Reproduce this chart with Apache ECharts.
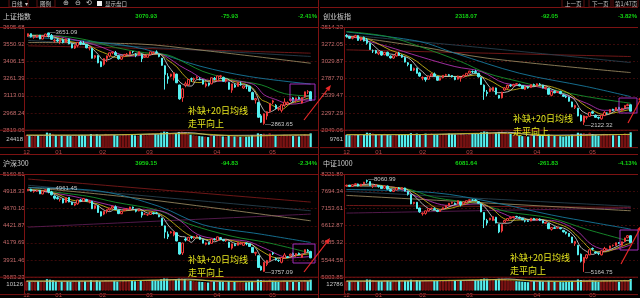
<!DOCTYPE html>
<html><head><meta charset="utf-8">
<script src="https://cdn.jsdelivr.net/npm/echarts@6/dist/echarts.min.js"></script>
<style>html,body{margin:0;padding:0;background:#000;}#c{width:640px;height:298px;}</style>
</head><body><div id="c"></div><script>
// ---------- DATA ----------
const monthLabels = ['12','01','02','03','04','05'];
const monthIdx = [0,11,26,42,65,84];

const shTicks = ['3695.68','3550.92','3406.15','3261.39','3113.01','2968.24','2819.06'];
const cyTicks = ['3514.23','3272.05','3029.87','2787.70','2539.47','2297.29','2049.06'];
const hsTicks = ['5160.51','4918.33','4670.10','4421.87','4179.69','3931.46','3683.23'];
const zzTicks = ['8221.89','7694.34','7153.61','6612.87','6085.32','5544.58','5003.85'];

// candles: [open, close, low, high]
const shK = [[3623,3643,3616,3644],[3643,3618,3610,3645],[3612,3615,3600,3620],[3614,3630,3606,3631],[3630,3597,3596,3632],[3597,3619,3596,3623],[3620,3640,3618,3641],[3649,3632,3611,3651.09],[3628,3595,3590,3640],[3581,3586,3565,3600],[3589,3580,3570,3602],[3573,3593,3555,3594],[3590,3567,3560,3601],[3570,3597,3566,3600],[3598,3555,3553,3601],[3553,3521,3518,3559],[3520,3541,3512,3545],[3541,3569,3526,3570],[3569,3558,3545,3580],[3559,3555,3546,3580],[3550,3522,3518,3555],[3519,3525,3500,3530],[3518,3433,3430,3520],[3440,3455,3429,3460],[3455,3394,3390,3460],[3403,3361,3357,3410],
[3380,3430,3370,3431],[3430,3453,3400,3456],[3452,3479,3440,3480],[3478,3485,3467,3490],[3480,3462,3455,3495],[3454,3428,3421,3460],[3425,3446,3420,3447],[3452,3465,3445,3470],[3464,3468,3460,3477],[3465,3490,3458,3490],[3491,3490,3475,3493],[3466,3457,3442,3478],[3462,3489,3458,3490],[3463,3429,3400,3470],[3440,3451,3437,3464],[3441,3462,3439,3463],
[3467,3488,3460,3490],[3480,3484,3466,3490],[3487,3481,3471,3500],[3466,3447,3441,3468],[3434,3372,3368,3435],[3368,3293,3165,3372],[3275,3256,3215,3305],[3280,3296,3270,3300],[3265,3309,3242,3310],[3297,3223,3220,3300],[3204,3085,3078,3206],[3095,3171,3060,3175],[3202,3215,3185,3233],[3206,3251,3195,3253],[3258,3253,3232,3268],[3249,3259,3232,3268],[3264,3271,3256,3279],[3256,3250,3244,3270],[3246,3212,3208,3252],[3196,3214,3183,3226],[3221,3203,3192,3224],[3214,3266,3210,3267],[3261,3252,3245,3273],
[3240,3282,3237,3283],[3276,3283,3263,3290],[3269,3236,3233,3275],[3236,3251,3225,3255],[3226,3167,3164,3230],[3160,3213,3137,3214],[3203,3186,3180,3216],[3191,3225,3191,3226],[3213,3211,3197,3232],[3178,3195,3170,3200],[3195,3194,3169,3208],[3194,3151,3148,3195],[3140,3079,3075,3147],[3075,3087,3045,3094],[3054,2928,2925,3062],[2940,2886,2880,2955],[2875,2958,2863.65,2960],[2939,2975,2907,2980],[2976,3047,2966,3050],
[3057,3068,3040,3078],[3030,3002,2995,3040],[2998,3004,2983,3012],[2987,3035,2969,3036],[3032,3058,3017,3090],[3041,3054,3036,3063],[3071,3084,3060,3090],[3094,3073,3060,3100],[3070,3094,3054,3095],[3097,3086,3078,3106],[3050,3097,3045,3099],[3100,3146,3097,3147],[3145,3147,3127,3160],[3146,3070.93,3068,3153]];

const cyK = [[3400,3390,3370,3420],[3385,3360,3350,3395],[3360,3375,3345,3385],[3378,3400,3370,3410],[3398,3330,3325,3405],[3335,3370,3320,3375],[3372,3322,3315,3385],[3340,3290,3270,3365],[3285,3200,3195,3295],[3180,3180,3150,3200],[3185,3150,3140,3195],[3140,3165,3120,3170],[3170,3120,3110,3180],[3125,3160,3118,3165],[3160,3110,3105,3168],[3105,3080,3070,3115],[3078,3110,3065,3115],[3108,3150,3100,3155],[3150,3120,3110,3165],[3118,3090,3080,3130],[3085,3020,3015,3090],[3010,2985,2960,3020],[2985,2900,2895,2990],[2905,2930,2890,2940],[2930,2860,2855,2940],[2865,2820,2810,2880],
[2790,2800,2760,2815],[2798,2770,2740,2805],[2775,2820,2770,2825],[2822,2850,2815,2860],[2850,2820,2812,2870],[2815,2760,2750,2820],[2762,2790,2755,2795],[2795,2830,2790,2835],[2832,2840,2820,2852],[2838,2830,2815,2850],[2828,2810,2800,2835],[2800,2770,2760,2815],[2775,2820,2770,2825],[2790,2800,2740,2810],[2805,2830,2800,2840],[2828,2860,2825,2862],
[2862,2890,2855,2895],[2885,2880,2860,2900],[2885,2870,2855,2910],[2860,2810,2800,2865],[2800,2700,2695,2805],[2690,2600,2480,2700],[2590,2570,2530,2620],[2600,2640,2590,2645],[2620,2660,2600,2665],[2650,2560,2555,2655],[2545,2505,2498,2550],[2510,2590,2500,2595],[2620,2650,2610,2660],[2648,2690,2640,2695],[2690,2680,2665,2705],[2678,2700,2670,2710],[2705,2710,2695,2720],[2700,2680,2672,2712],[2680,2640,2635,2688],[2630,2660,2620,2665],[2662,2650,2640,2670],[2655,2700,2650,2702],[2698,2690,2680,2712],
[2680,2710,2670,2715],[2705,2700,2685,2720],[2690,2650,2645,2695],[2648,2660,2630,2668],[2640,2560,2555,2645],[2545,2600,2530,2605],[2598,2580,2575,2615],[2585,2600,2580,2605],[2598,2570,2560,2610],[2550,2530,2520,2560],[2530,2520,2505,2545],[2520,2460,2455,2525],[2450,2380,2375,2455],[2370,2400,2350,2410],[2360,2250,2245,2365],[2260,2180,2170,2270],[2160,2250,2122.32,2255],[2230,2240,2200,2250],[2245,2300,2235,2305],
[2310,2290,2280,2325],[2260,2230,2225,2270],[2228,2220,2200,2240],[2210,2260,2195,2262],[2255,2300,2248,2320],[2290,2290,2280,2300],[2300,2340,2295,2345],[2345,2330,2320,2352],[2328,2370,2320,2372],[2372,2350,2345,2380],[2330,2360,2325,2362],[2362,2400,2358,2402],[2398,2410,2390,2425],[2410,2318.07,2315,2415]];

const hsK = [[4930,4947,4925,4952],[4948,4921,4915,4955],[4915,4919,4898,4925],[4920,4933,4910,4940],[4932,4882,4878,4935],[4880,4922,4875,4925],[4925,4940,4918,4945],[4957,4917,4890,4961.45],[4910,4868,4860,4925],[4850,4819,4800,4860],[4825,4812,4800,4845],[4800,4810,4770,4812],[4808,4752,4745,4815],[4760,4828,4755,4830],[4830,4765,4760,4835],[4760,4726,4720,4770],[4720,4740,4705,4745],[4738,4794,4725,4796],[4793,4779,4768,4806],[4778,4813,4765,4823],[4800,4779,4770,4810],[4770,4786,4745,4790],[4775,4667,4662,4780],[4675,4712,4660,4715],[4712,4613,4608,4715],[4625,4563,4556,4630],
[4590,4631,4575,4634],[4628,4654,4600,4658],[4652,4676,4640,4680],[4677,4702,4668,4710],[4695,4657,4650,4715],[4645,4597,4590,4655],[4595,4627,4590,4630],[4640,4659,4635,4665],[4658,4662,4650,4675],[4655,4692,4650,4694],[4690,4675,4660,4698],[4650,4630,4615,4660],[4635,4658,4630,4662],[4620,4575,4540,4625],[4590,4590,4580,4608],[4580,4581,4565,4590],
[4585,4617,4580,4620],[4608,4596,4585,4615],[4605,4600,4588,4622],[4575,4551,4545,4580],[4530,4428,4422,4535],[4420,4330,4240,4425],[4300,4264,4230,4340],[4320,4333,4310,4345],[4290,4339,4270,4341],[4320,4203,4198,4325],[4180,4014,4005,4185],[4030,4173,4000,4175],[4230,4215,4195,4255],[4210,4256,4200,4258],[4262,4253,4230,4275],[4248,4263,4235,4272],[4268,4274,4258,4285],[4258,4226,4220,4268],[4220,4171,4168,4225],[4155,4174,4140,4180],[4180,4156,4150,4185],[4168,4231,4165,4233],[4225,4223,4210,4245],
[4210,4262,4205,4264],[4250,4234,4220,4258],[4220,4207,4198,4228],[4205,4214,4190,4222],[4185,4110,4105,4190],[4100,4160,4080,4162],[4150,4134,4128,4168],[4140,4183,4138,4185],[4165,4175,4150,4190],[4140,4175,4130,4180],[4172,4164,4140,4180],[4160,4123,4118,4165],[4110,4035,4030,4115],[4025,4039,3990,4045],[3990,3820,3815,3995],[3835,3784,3775,3850],[3765,3896,3757.09,3900],[3865,3921,3840,3930],[3920,4016,3905,4020],
[4030,4018,4000,4045],[3945,3930,3920,3965],[3925,3920,3900,3935],[3895,3964,3880,3966],[3960,4001,3945,4030],[3975,3966,3955,3985],[3990,4013,3980,4020],[4025,3999,3985,4035],[3995,4022,3975,4025],[4025,4009,4000,4035],[3965,4011,3960,4015],[4030,4077,4025,4080],[4070,4054,4040,4085],[4052,3959.15,3955,4060]];

const zzK = [[7860,7880,7840,7905],[7885,7850,7830,7895],[7845,7900,7835,7905],[7905,7930,7890,7945],[7925,7860,7850,7935],[7855,7920,7850,7925],[7925,7980,7915,7990],[8030,8010,7960,8060.99],[8000,7880,7870,8010],[7850,7860,7800,7890],[7865,7890,7840,7910],[7870,7850,7810,7885],[7855,7780,7770,7870],[7790,7860,7785,7865],[7860,7760,7750,7870],[7750,7700,7680,7765],[7690,7740,7670,7745],[7735,7800,7720,7805],[7800,7780,7760,7825],[7775,7810,7750,7820],[7800,7700,7690,7810],[7690,7600,7560,7700],[7590,7300,7290,7600],[7310,7350,7280,7360],[7350,7150,7140,7360],[7170,7050,7020,7180],
[6990,7010,6930,7030],[7000,7080,6960,7090],[7080,7150,7060,7155],[7150,7160,7130,7185],[7150,7120,7100,7190],[7100,7060,7040,7120],[7060,7120,7050,7125],[7130,7180,7120,7190],[7180,7250,7170,7260],[7245,7320,7240,7325],[7320,7350,7300,7365],[7320,7300,7270,7340],[7300,7400,7295,7405],[7360,7280,7220,7370],[7300,7360,7290,7370],[7350,7400,7340,7405],
[7405,7430,7390,7440],[7420,7420,7395,7445],[7425,7400,7380,7450],[7370,7320,7310,7380],[7300,7050,7040,7305],[7030,6800,6540,7040],[6780,6700,6620,6830],[6800,6850,6780,6860],[6780,6900,6760,6905],[6880,6700,6690,6890],[6650,6420,6380,6660],[6450,6650,6400,6655],[6720,6780,6700,6800],[6775,6840,6760,6845],[6845,6880,6820,6900],[6870,6900,6850,6915],[6905,6890,6870,6925],[6880,6850,6835,6900],[6845,6800,6790,6860],[6770,6760,6720,6790],[6770,6750,6730,6790],[6760,6850,6755,6855],[6840,6800,6790,6860],
[6790,6830,6770,6840],[6820,6780,6760,6845],[6770,6700,6690,6780],[6690,6720,6670,6730],[6680,6520,6510,6690],[6500,6560,6460,6565],[6550,6530,6520,6590],[6535,6560,6530,6570],[6540,6520,6500,6570],[6470,6420,6400,6480],[6420,6380,6340,6430],[6375,6280,6270,6380],[6260,6080,6070,6265],[6050,6120,5980,6130],[6000,5700,5690,6010],[5720,5500,5460,5740],[5450,5620,5164.75,5630],[5600,5700,5560,5720],[5700,5860,5690,5865],
[5900,5880,5840,5930],[5790,5760,5740,5810],[5750,5740,5690,5770],[5700,5830,5680,5835],[5830,5900,5810,5950],[5870,5880,5850,5900],[5900,5980,5890,5985],[5990,6000,5960,6020],[5995,6080,5980,6085],[6085,6060,6040,6100],[6000,6110,5990,6115],[6120,6230,6115,6235],[6240,6300,6220,6320],[6300,6081.64,6075,6310]];

// volumes
const shVol = [36000,34000,33000,35000,36000,33000,34000,44000,42000,40000,35000,36000,35000,37000,36000,34000,33000,35000,36000,37000,36000,35000,40000,38000,39000,36000,
37000,40000,38000,39000,37000,35000,34000,36000,37000,39000,38000,36000,35000,38000,37000,36000,
40000,41000,40000,39000,44000,47000,46000,42000,40000,43000,46000,47000,45000,40000,38000,36000,35000,34000,33000,32000,31000,36000,35000,
36000,35000,33000,32000,37000,36000,33000,34000,32000,31000,32000,33000,36000,35000,42000,40000,41000,38000,42000,
38000,36000,33000,34000,38000,35000,36000,34000,37000,33000,35000,39000,36000,42000];
const cyVol = [15000,14500,14000,15500,15000,14000,15000,17500,17000,16500,15000,15500,15000,16000,15500,14500,14000,15000,15500,16000,15500,15000,17000,16000,16500,15500,
15500,16500,16000,16500,15500,15000,14500,15500,16000,16500,16000,15500,15000,16000,15500,15000,
16500,17000,16500,16000,18000,19000,18500,17500,16500,17500,18500,19000,18000,16500,16000,15000,14500,14000,13500,13500,13000,15000,14500,
15000,14500,14000,13500,15500,15000,14000,14500,13500,13000,13500,14000,15000,14500,17500,16500,17000,16000,17500,
16000,15000,14000,14500,16000,15000,15500,14500,15500,14000,14500,16500,15500,18000];
const hsVol = [15000,14200,13800,14600,15000,13800,14200,18300,17500,16700,14600,15000,14600,15400,15000,14200,13800,14600,15000,15400,15000,14600,16700,15800,16300,15000,
15400,16700,15800,16300,15400,14600,14200,15000,15400,16300,15800,15000,14600,15800,15400,15000,
16700,17100,16700,16300,18300,19500,19100,17500,16700,17900,19100,19500,18700,16700,15800,15000,14600,14200,13800,13300,12900,15000,14600,
15000,14600,13800,13300,15400,15000,13800,14200,13300,12900,13300,13800,15000,14600,17500,16700,17100,15800,17500,
15800,15000,13800,14200,15800,14600,15000,14200,15400,13800,14600,16300,15000,17500];
const zzVol = [19000,18500,18000,19500,19000,18000,19000,22500,22000,21000,19000,19500,19000,20500,20000,18500,18000,19500,20000,20500,20000,19500,22000,21000,21500,20000,
20000,21500,21000,21500,20000,19500,19000,20000,21000,21500,21000,20000,19500,21000,20500,19500,
21500,22000,21500,21000,23500,24500,24000,22500,21500,23000,24000,24500,23500,21500,20500,19500,19000,18500,18000,17500,17000,19500,19000,
19500,19000,18000,17500,20000,19500,18000,18500,17500,17000,17500,18000,19500,19000,22500,21500,22000,20500,22500,
20500,19500,18000,18500,20500,19000,20000,18500,20000,18000,19000,21500,20000,23500];

// moving averages: [dayIndex, value]
const shMa5 = [[0,3625],[4,3621],[8,3617],[12,3584],[16,3555],[20,3549],[22,3517],[24,3466],[26,3415],[28,3424],[30,3454],[32,3460],[35,3459],[38,3479],[41,3456],[44,3473],[46,3454],[48,3370],[50,3305],[52,3232],[54,3200],[56,3195],[58,3250],[60,3249],[62,3232],[64,3229],[66,3260],[68,3259],[70,3230],[72,3208],[74,3206],[76,3193],[78,3139],[80,3026],[82,2967],[84,2983],[86,3015],[88,3033],[90,3047],[92,3073],[94,3087],[96,3110],[97,3109]];
const shMa10 = [[0,3625],[5,3622],[10,3610],[15,3573],[20,3553],[24,3500],[27,3470],[30,3440],[34,3450],[38,3465],[42,3466],[45,3469],[48,3416],[51,3360],[53,3300],[56,3235],[59,3225],[62,3240],[65,3240],[68,3249],[71,3232],[74,3216],[77,3180],[80,3080],[82,3057],[84,3028],[87,2995],[90,3045],[93,3065],[96,3090],[97,3095]];
const shMa20 = [[0,3628],[8,3625],[14,3600],[20,3567],[25,3530],[30,3480],[35,3450],[40,3460],[45,3468],[48,3438],[52,3370],[56,3315],[60,3258],[65,3235],[70,3240],[75,3225],[78,3200],[81,3120],[85,3080],[90,3040],[94,3050],[97,3075]];
const shMa30 = [[0,3632],[10,3625],[20,3590],[30,3525],[40,3480],[48,3460],[55,3380],[60,3320],[70,3250],[80,3205],[88,3130],[97,3110]];
const shMa60 = [[0,3615],[25,3567],[40,3510],[59,3365],[76,3276],[97,3212]];
const shMa120 = [[0,3567],[37,3556],[60,3500],[97,3390]];
const shMa250 = [[0,3539],[50,3510],[97,3476]];
const shMaX = [[0,3585],[97,3448]];
const shVolMa5 = [[0,36000],[20,36500],[45,40000],[55,44000],[65,36000],[80,36500],[97,37000]];
const shVolMa10 = [[0,37000],[25,37000],[50,41000],[60,40000],[75,34000],[90,37000],[97,37500]];

const cyMa5 = [[0,3380],[4,3371],[8,3300],[12,3163],[16,3129],[20,3098],[22,3053],[24,2955],[26,2881],[28,2814],[30,2812],[32,2808],[35,2818],[38,2810],[41,2824],[44,2859],[46,2822],[48,2710],[50,2614],[52,2582],[54,2587],[56,2614],[58,2686],[60,2686],[62,2666],[64,2668],[66,2692],[68,2682],[70,2634],[72,2600],[74,2570],[76,2540],[78,2474],[80,2336],[82,2282],[84,2256],[86,2257],[88,2260],[90,2282],[92,2328],[94,2338],[96,2368],[97,2368]];
const cyMa10 = [[0,3385],[5,3375],[10,3300],[15,3190],[20,3120],[24,3030],[28,2900],[32,2820],[36,2815],[40,2815],[44,2835],[47,2795],[50,2735],[53,2660],[56,2620],[60,2650],[64,2680],[68,2680],[72,2640],[76,2570],[80,2440],[84,2330],[88,2270],[92,2300],[96,2335],[97,2345]];
const cyMa20 = [[0,3404],[14,3242],[25,3099],[37,2956],[46,2884],[54,2718],[65,2669],[76,2526],[82,2430],[88,2330],[97,2360]];
const cyMa30 = [[0,3457],[14,3385],[25,3242],[39,3027],[48,2861],[59,2741],[71,2622],[82,2526],[97,2431]];
const cyMa60 = [[0,3450],[25,3314],[37,3147],[59,2861],[82,2669],[97,2526]];
const cyMa120 = [[0,3395],[25,3242],[48,3076],[97,2870]];
const cyMa250 = [[0,3195],[97,3099]];
const cyMaX = [[0,3410],[48,3219],[97,3013]];
const cyVolMa5 = [[0,15000],[20,15200],[45,16500],[55,18000],[65,14500],[80,15000],[97,15500]];
const cyVolMa10 = [[0,15300],[25,15400],[50,17000],[60,16200],[75,14000],[90,15200],[97,15500]];

const hsMa5 = [[0,4935],[4,4925],[8,4895],[12,4813],[16,4758],[20,4780],[22,4750],[24,4711],[26,4648],[28,4626],[30,4664],[32,4652],[35,4648],[38,4665],[41,4605],[44,4597],[46,4555],[48,4434],[50,4343],[52,4271],[54,4258],[56,4182],[58,4252],[60,4237],[62,4200],[64,4191],[66,4221],[68,4228],[70,4186],[72,4160],[74,4165],[76,4164],[78,4107],[80,3966],[82,3892],[84,3927],[86,3958],[88,3960],[90,3973],[92,4001],[94,4013],[96,4035],[97,4022]];
const hsMa10 = [[0,4940],[5,4930],[10,4878],[15,4792],[20,4770],[24,4735],[28,4670],[32,4630],[36,4650],[40,4640],[44,4615],[47,4553],[50,4455],[53,4350],[56,4270],[60,4230],[64,4220],[68,4220],[72,4190],[76,4165],[80,4060],[84,3970],[88,3950],[92,3990],[96,4015],[97,4020]];
const hsMa20 = [[0,4945],[15,4850],[25,4750],[35,4660],[45,4640],[52,4500],[58,4300],[65,4230],[75,4200],[81,4100],[90,3960],[97,3979]];
const hsMa30 = [[0,4950],[20,4850],[30,4760],[45,4640],[55,4450],[70,4270],[82,4180],[97,4027]];
const hsMa60 = [[0,4970],[25,4918],[45,4700],[60,4436],[80,4300],[97,4181]];
const hsMa120 = [[0,4976],[37,4821],[97,4493]];
const hsMa250 = [[0,5095],[97,4763]];
const hsMaX = [[0,5005],[97,4638]];
const hsMaY = [[0,4402],[97,4590]];
const hsVolMa5 = [[0,15000],[20,15200],[45,16700],[55,18400],[65,15000],[80,15200],[97,15400]];
const hsVolMa10 = [[0,15400],[25,15400],[50,17100],[60,16700],[75,14200],[90,15400],[97,15600]];

const zzMa5 = [[0,7870],[4,7884],[8,7926],[12,7852],[16,7768],[20,7770],[22,7639],[24,7475],[26,7292],[28,7152],[30,7094],[32,7102],[35,7206],[38,7304],[41,7348],[44,7406],[46,7305],[48,7114],[50,6857],[52,6694],[54,6690],[56,6708],[58,6856],[60,6864],[62,6810],[64,6792],[66,6812],[68,6766],[70,6662],[72,6578],[74,6542],[76,6442],[78,6256],[80,5936],[82,5804],[84,5712],[86,5788],[88,5802],[90,5866],[92,5948],[94,6046],[96,6156],[97,6156]];
const zzMa10 = [[0,7880],[5,7885],[10,7895],[15,7830],[20,7775],[24,7600],[28,7320],[32,7130],[36,7170],[40,7280],[44,7370],[47,7290],[50,7130],[53,6880],[56,6780],[60,6800],[64,6820],[68,6790],[72,6680],[76,6520],[80,6180],[84,5840],[88,5790],[92,5900],[96,6040],[97,6070]];
const zzMa20 = [[0,7870],[15,7840],[25,7500],[35,7250],[45,7300],[52,7050],[60,6800],[70,6780],[78,6500],[84,6000],[90,5850],[97,6015]];
const zzMa30 = [[0,7855],[20,7780],[30,7500],[45,7300],[55,7050],[70,6850],[82,6500],[97,6120]];
const zzMa60 = [[0,7750],[30,7650],[50,7350],[70,6950],[85,6700],[97,6507]];
const zzMa120 = [[0,7567],[97,7083]];
const zzMa250 = [[0,7250],[97,7190]];
const zzMaX = [[0,7693],[97,7222]];
const zzMaY = [[0,7010],[97,7170]];
const zzVolMa5 = [[0,19000],[20,19500],[45,21000],[55,23500],[65,19000],[80,19500],[97,20000]];
const zzVolMa10 = [[0,19500],[25,19800],[50,22000],[60,21000],[75,18500],[90,19500],[97,20000]];

// ---------- STYLE / LAYOUT ----------
const maColors = {ma250:'#7a1a1a', maX:'#27404e', maY:'#5a1c52', ma120:'#94845e', ma60:'#17789c', ma30:'#17922e', ma20:'#b032b0', ma10:'#c2b018', ma5:'#c4c4c4'};
const panels = [
  {name:'上证指数', price:'3070.93', chg:'-75.93', pct:'-2.41%', ticks:shTicks, k:shK, vol:shVol, volTick:24418,
   ma:{ma250:shMa250, maX:shMaX, ma120:shMa120, ma60:shMa60, ma30:shMa30, ma20:shMa20, ma10:shMa10, ma5:shMa5}, vma:[shVolMa5, shVolMa10], marks:['max','min'], ox:0, oy:0},
  {name:'创业板指', price:'2318.07', chg:'-92.05', pct:'-3.82%', ticks:cyTicks, k:cyK, vol:cyVol, volTick:9761,
   ma:{ma250:cyMa250, maX:cyMaX, ma120:cyMa120, ma60:cyMa60, ma30:cyMa30, ma20:cyMa20, ma10:cyMa10, ma5:cyMa5}, vma:[cyVolMa5, cyVolMa10], marks:['min'], ox:320, oy:0},
  {name:'沪深300', price:'3959.15', chg:'-94.83', pct:'-2.34%', ticks:hsTicks, k:hsK, vol:hsVol, volTick:10126,
   ma:{ma250:hsMa250, maX:hsMaX, maY:hsMaY, ma120:hsMa120, ma60:hsMa60, ma30:hsMa30, ma20:hsMa20, ma10:hsMa10, ma5:hsMa5}, vma:[hsVolMa5, hsVolMa10], marks:['max','min'], ox:0, oy:147},
  {name:'中证1000', price:'6081.64', chg:'-261.83', pct:'-4.13%', ticks:zzTicks, k:zzK, vol:zzVol, volTick:12786,
   ma:{ma250:zzMa250, maX:zzMaX, maY:zzMaY, ma120:zzMa120, ma60:zzMa60, ma30:zzMa30, ma20:zzMa20, ma10:zzMa10, ma5:zzMa5}, vma:[zzVolMa5, zzVolMa10], marks:['max','min'], ox:320, oy:147}
];

const RED_LINE = '#7c1212';
const UP = '#f03a3a', DOWN = '#54f0f0';
const NUMF = '"Liberation Sans", Arial, sans-serif';
const CJKF = '"Noto Sans CJK SC", sans-serif';

const grids = [], xAxes = [], yAxes = [], series = [], graphics = [];
const cats = Array.from({length:100}, (_, i) => { const m = monthIdx.indexOf(i); return m >= 0 ? monthLabels[m] : ''; });

function hline(x1, x2, y, color) { graphics.push({type:'line', silent:true, z:50, shape:{x1, y1:y, x2, y2:y}, style:{stroke: color || RED_LINE, lineWidth:1}}); }
function vline(x, y1, y2, color) { graphics.push({type:'line', silent:true, z:50, shape:{x1:x, y1, x2:x, y2}, style:{stroke: color || RED_LINE, lineWidth:1}}); }
function txt(x, y, s, o) { graphics.push({type:'text', silent:true, z:60, x, y, style:Object.assign({text:s, fill:'#c8c8c8', font:'6px ' + NUMF, textVerticalAlign:'middle'}, o || {})}); }
function box(x, y, w, h) { graphics.push({type:'rect', silent:true, z:55, shape:{x, y, width:w, height:h}, style:{fill:'none', stroke:'#5a1010', lineWidth:1}}); }
function arrow(x1, y1, x2, y2) {
  const a = Math.atan2(y2 - y1, x2 - x1), L = 6, W = 2.4;
  const bx = x2 - L * Math.cos(a), by = y2 - L * Math.sin(a);
  graphics.push({type:'line', silent:true, z:70, shape:{x1, y1, x2:bx, y2:by}, style:{stroke:'#e82828', lineWidth:1.2}});
  graphics.push({type:'polygon', silent:true, z:70, shape:{points:[[x2, y2], [bx + W * Math.sin(a), by - W * Math.cos(a)], [bx - W * Math.sin(a), by + W * Math.cos(a)]]}, style:{fill:'#e82828'}});
}
function prect(x, y, w, h) { graphics.push({type:'rect', silent:true, z:65, shape:{x, y, width:w, height:h}, style:{fill:'none', stroke:'#a02cb8', lineWidth:1}}); }

panels.forEach((p, n) => {
  const ox = p.ox, oy = p.oy, gi = n * 2;
  const yMax = parseFloat(p.ticks[0]), yMin = parseFloat(p.ticks[p.ticks.length - 1]);
  const step = (yMax - yMin) / 6;
  grids.push({left: ox + 25, top: oy + 27.5, width: 293, height: 102.5});
  grids.push({left: ox + 25, top: oy + 131, width: 293, height: 16.6});
  xAxes.push({type:'category', gridIndex:gi, data:cats, boundaryGap:true, axisLine:{show:false}, axisTick:{show:false}, axisLabel:{show:false}, splitLine:{show:false}});
  xAxes.push({type:'category', gridIndex:gi + 1, data:cats, boundaryGap:true, axisLine:{show:false}, axisTick:{show:false},
    axisLabel:{show:true, interval:0, color:'#b44848', fontSize:6, fontFamily:NUMF, margin:1.5}, splitLine:{show:false}});
  yAxes.push({type:'value', gridIndex:gi, min:yMin, max:yMax, interval:step, axisLine:{show:false}, axisTick:{show:false},
    axisLabel:{show:true, margin:2, fontSize:6, fontFamily:NUMF, color:'#c46a6a', formatter:(v) => p.ticks[Math.round((yMax - v) / step)] || ''},
    splitLine:{show:true, lineStyle:{color:'#3a0a0a', width:1, type:[2, 2]}}});
  yAxes.push({type:'value', gridIndex:gi + 1, min:0, max:p.volTick * 2, interval:p.volTick, axisLine:{show:false}, axisTick:{show:false},
    axisLabel:{show:true, margin:2, fontSize:6, fontFamily:NUMF, color:'#c8c8c8', formatter:(v) => Math.abs(v - p.volTick) < 1 ? String(p.volTick) : ''},
    splitLine:{show:false}});

  Object.keys(p.ma).forEach(key => {
    series.push({type:'line', xAxisIndex:gi, yAxisIndex:gi, data:p.ma[key], smooth:0.35, showSymbol:false, symbol:'none', silent:true,
      lineStyle:{color:maColors[key], width:0.9}, z:2});
  });
  series.push({type:'candlestick', xAxisIndex:gi, yAxisIndex:gi, data:p.k, barWidth:2, silent:true, z:3,
    itemStyle:{color:'#000', color0:DOWN, borderColor:UP, borderColor0:DOWN, borderWidth:1},
    markPoint:{symbol:'circle', symbolSize:0, silent:true,
      data:p.marks.map(m => ({type:m, valueDim: m === 'max' ? 'highest' : 'lowest'})),
      label:{show:true, position:'right', distance:1, color:'#c8c8c8', fontSize:6, fontFamily:NUMF, formatter:(q) => '\u2014' + q.value}}});
  series.push({type:'bar', xAxisIndex:gi + 1, yAxisIndex:gi + 1, barWidth:2.2, silent:true, z:2,
    data:p.vol.map((v, i) => ({value:v, itemStyle: p.k[i][1] >= p.k[i][0] ? {color:'#5e0c0c', borderColor:'#b02020', borderWidth:0.6} : {color:DOWN}}))});
  p.vma.forEach((d, j) => series.push({type:'line', xAxisIndex:gi + 1, yAxisIndex:gi + 1, data:d, smooth:0.35, showSymbol:false, symbol:'none', silent:true,
    lineStyle:{color: j === 0 ? '#c8c8c8' : '#c0b020', width:0.9}, z:3}));

  // frame lines
  hline(ox, ox + 318, oy + 7.5);
  hline(ox, ox + 318, oy + 27.5);
  hline(ox, ox + 318, oy + 130.2);
  hline(ox, ox + 318, oy + 147.6);
  vline(ox + 24.5, oy + 27.5, oy + 147.6);
  // title row
  txt(ox + 3, oy + 16.5, p.name, {font:'7px ' + CJKF, fill:'#cfcfcf'});
  txt(ox + 157, oy + 16.5, p.price, {font:'bold 6px ' + NUMF, fill:'#12d412', textAlign:'right'});
  txt(ox + 238, oy + 16.5, p.chg, {font:'bold 6px ' + NUMF, fill:'#12d412', textAlign:'right'});
  txt(ox + 317, oy + 16.5, p.pct, {font:'bold 6px ' + NUMF, fill:'#12d412', textAlign:'right'});
});
vline(318.5, 0, 298);

// toolbar
box(9, -3, 19, 10); txt(11.5, 3.5, '日线  ▾', {font:'5.5px ' + CJKF});
box(37, -3, 18, 10); txt(40, 3.5, '图例', {font:'5.5px ' + CJKF});
txt(63, 3.5, '⊕', {font:'7px ' + NUMF}); txt(75, 3.5, '⊖', {font:'7px ' + NUMF}); txt(86, 3.5, '⟲', {font:'7px ' + NUMF});
graphics.push({type:'rect', silent:true, z:60, shape:{x:97, y:1, width:5, height:5}, style:{fill:'#f0f0f0'}});
txt(105, 3.5, '显示盘口', {font:'5.5px ' + CJKF});
box(562, -3, 22, 10); txt(565, 3.5, '上一页', {font:'5.5px ' + CJKF});
box(589, -3, 22, 10); txt(592, 3.5, '下一页', {font:'5.5px ' + CJKF});
box(613, -3, 25, 10); txt(615, 3.5, '第1/47页', {font:'5.5px ' + CJKF});

// annotations
const note = '补缺+20日均线\n走平向上';
[[188, 104.5], [513, 112.5], [188, 253.5], [510, 251]].forEach(([x, y]) => {
  graphics.push({type:'text', silent:true, z:80, x, y, style:{text:note, fill:'#e6e61e', font:'9px ' + CJKF, lineHeight:13}});
});
prect(290, 84, 25, 16); prect(619, 98, 18, 15); prect(293, 244, 22, 19); prect(620, 230, 18, 20);
arrow(304, 120, 331, 85); arrow(628, 123, 643, 95); arrow(304, 272, 330, 238); arrow(621, 264, 642, 225);

const chart = echarts.init(document.getElementById('c'), null, {renderer:'canvas'});
chart.setOption({backgroundColor:'#000', animation:false, grid:grids, xAxis:xAxes, yAxis:yAxes, series:series, graphic:graphics});
</script></body></html>
